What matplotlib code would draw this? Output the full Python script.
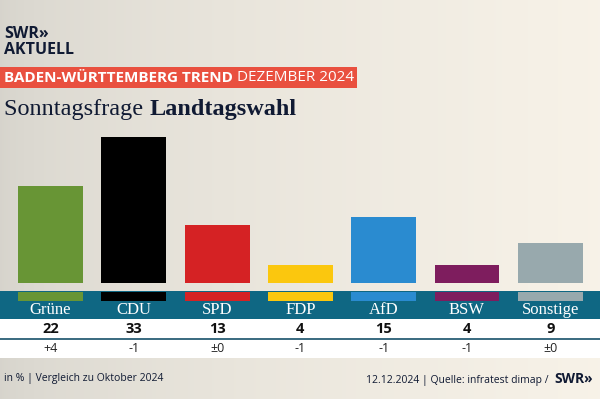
import numpy as np
import matplotlib.pyplot as plt
from matplotlib.patches import Rectangle

parties = ['Grüne', 'CDU', 'SPD', 'FDP', 'AfD', 'BSW', 'Sonstige']
values = [22, 33, 13, 4, 15, 4, 9]
changes = ['+4', '-1', '±0', '-1', '-1', '-1', '±0']
colors = ['#689535', '#000000', '#d52224', '#fbc70e', '#2a8bd0', '#7e1d5e', '#98a9ad']

SANS = 'Open Sans'
SERIF = 'Liberation Serif'
NAVY = '#101a33'
TEAL = '#0f6783'

W, H = 600, 399
fig = plt.figure(figsize=(6, 3.99), dpi=100)

# background gradient
bg = fig.add_axes([0, 0, 1, 1])
t = np.linspace(0, 1, 300) ** 0.6
left = np.array([0.84, 0.83, 0.80])
right = np.array([0.97, 0.95, 0.91])
grad = left + (right - left) * t[:, None]
bg.imshow(grad[None, :, :], aspect='auto', extent=[0, W, H, 0])
bg.set_xlim(0, W)
bg.set_ylim(H, 0)
bg.axis('off')

# logo
bg.text(4, 42, 'SWR»\nAKTUELL', fontfamily=SANS, fontweight='bold', fontsize=11.5,
        color=NAVY, va='center', linespacing=0.95)

# red banner
bg.add_patch(Rectangle((0, 67), 357, 21, color='#e9503f', lw=0))
t1 = bg.text(4, 78, 'BADEN-WÜRTTEMBERG TREND ', fontfamily=SANS, fontweight='bold',
             fontsize=11, color='white', va='center')
bg.annotate('DEZEMBER 2024', xy=(1, 0), xycoords=t1, va='bottom', fontfamily=SANS,
            fontsize=11, color='white')

# subtitle
t2 = bg.text(4, 110, 'Sonntagsfrage ', fontfamily=SERIF, fontsize=17.5, color=NAVY, va='center')
bg.annotate('Landtagswahl', xy=(1, 0), xycoords=t2, va='bottom', fontfamily=SERIF,
            fontweight='bold', fontsize=17.5, color=NAVY)

# footer
bg.text(4, 379, 'in % | Vergleich zu Oktober 2024', fontfamily=SANS, fontsize=7.5,
        color=NAVY, va='center')
t3 = bg.text(593, 379, 'SWR»', fontfamily=SANS, fontweight='bold', fontsize=10,
             color=NAVY, va='center', ha='right')
bg.annotate('12.12.2024 | Quelle: infratest dimap /  ', xy=(0, 0), xycoords=t3, va='bottom',
            ha='right', fontfamily=SANS, fontsize=7.5, color=NAVY)

# bars
step = 83.3
x0 = 50.5
xlim = (-x0 / step, (W - x0) / step)
x = np.arange(len(parties))
ax = fig.add_axes([0, 1 - 283 / H, 1, 153 / H])
ax.bar(x, values, width=0.78, color=colors)
ax.set_xlim(*xlim)
ax.set_ylim(0, 153 / 4.43)
ax.axis('off')

# band and table
tb = fig.add_axes([0, 1 - 358 / H, 1, 68 / H])
tb.set_xlim(*xlim)
tb.set_ylim(358, 290)
tb.axhspan(291, 319, color=TEAL, lw=0)
tb.axhspan(319, 358, color='white', lw=0)
tb.axhline(339, color='#16506a', lw=1.2)
tb.bar(x, 9, bottom=292, width=0.78, color=colors)
for i in x:
    tb.text(i, 310, parties[i], fontfamily=SERIF, fontsize=12, color='white',
            ha='center', va='center')
    tb.text(i, 329, str(values[i]), fontfamily=SANS, fontweight='bold', fontsize=10.5,
            color='#111111', ha='center', va='center')
    tb.text(i, 349, changes[i], fontfamily=SANS, fontsize=9, color='#222222',
            ha='center', va='center')
tb.axis('off')

fig.savefig('out.png', dpi=100)
